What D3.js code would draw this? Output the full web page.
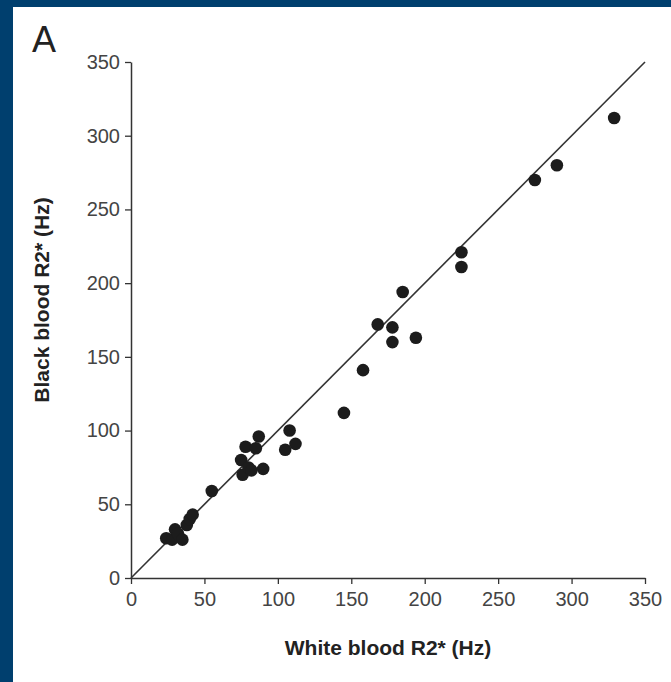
<!DOCTYPE html>
<html>
<head>
<meta charset="utf-8">
<script src="https://cdn.jsdelivr.net/npm/d3@7"></script>
<style>
  body { margin: 0; background: #003f6e; }
  svg { display: block; }
</style>
</head>
<body>
<svg width="671" height="682"></svg>
<script>
// white blood R2* vs black blood R2* (Hz)
var whiteR2 = [24, 28, 30, 32, 35, 38, 40, 42, 55, 75, 76, 78, 80, 82, 85, 87, 90, 105, 108, 112,
               145, 158, 168, 178, 178, 185, 194, 225, 225, 275, 290, 329];
var blackR2 = [27, 26, 33, 30, 26, 36, 40, 43, 59, 80, 70, 89, 75, 73, 88, 96, 74, 87, 100, 91,
               112, 141, 172, 170, 160, 194, 163, 221, 211, 270, 280, 312];
var tickVals = [0, 50, 100, 150, 200, 250, 300, 350];
var identity = [[0, 0], [350, 350]];

var points = whiteR2.map(function (w, i) { return [w, blackR2[i]]; });

var svg = d3.select("svg");

svg.append("rect")
  .attr("x", 13).attr("y", 7)
  .attr("width", 671 - 13).attr("height", 682 - 7)
  .attr("fill", "#ffffff");

var sx = d3.scaleLinear().domain([0, 350]).range([131, 645]);
var sy = d3.scaleLinear().domain([0, 350]).range([578, 62]);

var axX = svg.append("g")
  .attr("transform", "translate(0,578)")
  .call(d3.axisBottom(sx).tickValues(tickVals).tickSize(6).tickSizeOuter(0).tickPadding(8));
var axY = svg.append("g")
  .attr("transform", "translate(131,0)")
  .call(d3.axisLeft(sy).tickValues(tickVals).tickSize(6).tickSizeOuter(0).tickPadding(5));

[axX, axY].forEach(function (g) {
  g.attr("font-family", "'Liberation Sans', Arial, sans-serif").attr("font-size", 20);
  g.select(".domain").attr("stroke", "#333").attr("stroke-width", 1.5);
  g.selectAll(".tick line").attr("stroke", "#333").attr("stroke-width", 1.3);
  g.selectAll(".tick text").attr("fill", "#444");
});

var line = d3.line()
  .x(function (d) { return sx(d[0]); })
  .y(function (d) { return sy(d[1]); });

svg.append("path")
  .datum(identity)
  .attr("fill", "none")
  .attr("stroke", "#333")
  .attr("stroke-width", 1.6)
  .attr("d", line);

svg.selectAll("circle.pt")
  .data(points)
  .enter()
  .append("circle")
    .attr("class", "pt")
    .attr("cx", function (d) { return sx(d[0]); })
    .attr("cy", function (d) { return sy(d[1]); })
    .attr("r", 6.3)
    .attr("fill", "#1c1c1c");

svg.append("text")
  .attr("x", 388).attr("y", 655)
  .attr("text-anchor", "middle")
  .attr("fill", "#222")
  .style("font-family", "'Liberation Sans', Arial, sans-serif")
  .style("font-size", "21px")
  .style("font-weight", "bold")
  .text("White blood R2* (Hz)");

svg.append("text")
  .attr("transform", "translate(49,300) rotate(-90)")
  .attr("text-anchor", "middle")
  .attr("fill", "#222")
  .style("font-family", "'Liberation Sans', Arial, sans-serif")
  .style("font-size", "21px")
  .style("font-weight", "bold")
  .text("Black blood R2* (Hz)");

svg.append("text")
  .attr("x", 32).attr("y", 52)
  .attr("fill", "#222")
  .style("font-family", "'Liberation Sans', Arial, sans-serif")
  .style("font-size", "36px")
  .text("A");
</script>
</body>
</html>
